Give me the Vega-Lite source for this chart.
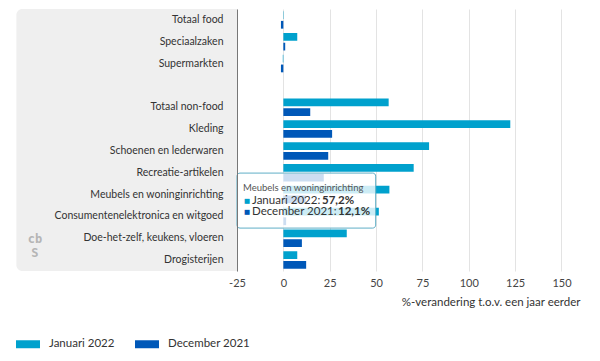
{
  "$schema": "https://vega.github.io/schema/vega-lite/v6.json",
  "autosize": {"type": "none"},
  "padding": {"left": 237, "top": 9, "right": 20, "bottom": 90},
  "width": 343,
  "height": 262,
  "config": {
    "view": {"stroke": null},
    "font": "Lato",
    "axis": {"labelFont": "Lato", "titleFont": "Lato"},
    "legend": {"labelFont": "Lato"}
  },
  "layer": [
    {
      "data": {"values": [{}]},
      "mark": {"type": "rect", "color": "#efefef", "cornerRadiusTopLeft": 6, "cornerRadiusBottomLeft": 6},
      "encoding": {
        "x": {"datum": -144, "type": "quantitative"},
        "x2": {"datum": -25}
      }
    },
    {
      "data": {"values": [{}]},
      "mark": {"type": "text", "align": "center", "baseline": "middle", "dy": 1, "fontSize": 12, "lineHeight": 14, "fontWeight": "bold", "color": "#b5b5b5", "font": "DejaVu Sans Mono"},
      "encoding": {
        "x": {"datum": -134, "type": "quantitative"},
        "y": {"datum": "Doe-het-zelf, keukens, vloeren", "type": "nominal"},
        "text": {"value": ["cb", "S"]}
      }
    },
    {
      "data": {
        "values": [
          {"cat": "Totaal food", "series": "Januari 2022", "value": 0.2},
          {"cat": "Totaal food", "series": "December 2021", "value": -1.3},
          {"cat": "Speciaalzaken", "series": "Januari 2022", "value": 7.5},
          {"cat": "Speciaalzaken", "series": "December 2021", "value": 1.0},
          {"cat": "Supermarkten", "series": "Januari 2022", "value": -0.3},
          {"cat": "Supermarkten", "series": "December 2021", "value": -1.3},
          {"cat": "Totaal non-food", "series": "Januari 2022", "value": 56.8},
          {"cat": "Totaal non-food", "series": "December 2021", "value": 14.5},
          {"cat": "Kleding", "series": "Januari 2022", "value": 122.4},
          {"cat": "Kleding", "series": "December 2021", "value": 26.3},
          {"cat": "Schoenen en lederwaren", "series": "Januari 2022", "value": 78.6},
          {"cat": "Schoenen en lederwaren", "series": "December 2021", "value": 24.2},
          {"cat": "Recreatie-artikelen", "series": "Januari 2022", "value": 70.3},
          {"cat": "Recreatie-artikelen", "series": "December 2021", "value": 21.8},
          {"cat": "Meubels en woninginrichting", "series": "Januari 2022", "value": 57.2},
          {"cat": "Meubels en woninginrichting", "series": "December 2021", "value": 12.1},
          {"cat": "Consumentenelektronica en witgoed", "series": "Januari 2022", "value": 51.5},
          {"cat": "Consumentenelektronica en witgoed", "series": "December 2021", "value": 1.5},
          {"cat": "Doe-het-zelf, keukens, vloeren", "series": "Januari 2022", "value": 34.2},
          {"cat": "Doe-het-zelf, keukens, vloeren", "series": "December 2021", "value": 10.0},
          {"cat": "Drogisterijen", "series": "Januari 2022", "value": 7.5},
          {"cat": "Drogisterijen", "series": "December 2021", "value": 12.3}
        ]
      },
      "mark": {"type": "bar"},
      "encoding": {
        "y": {
          "field": "cat",
          "type": "nominal",
          "title": null,
          "scale": {
            "domain": ["Totaal food", "Speciaalzaken", "Supermarkten", " ", "Totaal non-food", "Kleding", "Schoenen en lederwaren", "Recreatie-artikelen", "Meubels en woninginrichting", "Consumentenelektronica en witgoed", "Doe-het-zelf, keukens, vloeren", "Drogisterijen"],
            "paddingInner": 0.2,
            "paddingOuter": 0.1
          },
          "axis": {
            "ticks": false,
            "domain": true,
            "domainColor": "#777777",
            "domainWidth": 1,
            "labelPadding": 14,
            "labelFontSize": 10.5,
            "labelColor": "#333333",
            "zindex": 1
          }
        },
        "yOffset": {
          "field": "series",
          "type": "nominal",
          "sort": ["Januari 2022", "December 2021"],
          "scale": {"paddingInner": 0.2}
        },
        "x": {
          "field": "value",
          "type": "quantitative",
          "scale": {"domain": [-25, 160], "nice": false, "zero": false},
          "axis": {
            "values": [-25, 0, 25, 50, 75, 100, 125, 150],
            "labelExpr": "datum.value < 0 ? '-' + abs(datum.value) : datum.label",
            "title": "%-verandering t.o.v. een jaar eerder",
            "titleAnchor": "end",
            "titleFontWeight": "normal",
            "titleFontSize": 11.5,
            "titleColor": "#333333",
            "titlePadding": 8,
            "labelFontSize": 11,
            "labelColor": "#444444",
            "labelPadding": 6,
            "ticks": false,
            "domain": false,
            "grid": true,
            "gridColor": "#e3e3e3",
            "labelFlush": false
          }
        },
        "color": {
          "field": "series",
          "type": "nominal",
          "scale": {"domain": ["Januari 2022", "December 2021"], "range": ["#00a1cd", "#0058b8"]},
          "legend": {
            "title": null,
            "orient": "none",
            "legendX": -221,
            "legendY": 323,
            "direction": "horizontal",
            "symbolType": "M-1,-0.333H1V0.333H-1Z",
            "symbolSize": 576,
            "symbolStrokeWidth": 0,
            "symbolOpacity": 1,
            "labelFontSize": 11.5,
            "labelColor": "#333333",
            "labelOffset": 9,
            "columnPadding": 20
          }
        }
      }
    },
    {
      "data": {"values": [{}]},
      "mark": {"type": "rect", "fill": "#ffffff", "fillOpacity": 0.8, "stroke": "#5faec6", "strokeWidth": 1, "cornerRadius": 3, "height": 55, "yOffset": 6},
      "encoding": {
        "x": {"datum": -25, "type": "quantitative"},
        "x2": {"datum": 49.8},
        "y": {"datum": "Meubels en woninginrichting", "type": "nominal"}
      }
    },
    {
      "data": {"values": [{}]},
      "mark": {"type": "text", "align": "left", "baseline": "middle", "dx": 6, "dy": -7, "fontSize": 9.5, "color": "#555555"},
      "encoding": {
        "x": {"datum": -25, "type": "quantitative"},
        "y": {"datum": "Meubels en woninginrichting", "type": "nominal"},
        "text": {"value": "Meubels en woninginrichting"}
      }
    },
    {
      "data": {"values": [{}]},
      "mark": {"type": "text", "align": "left", "baseline": "middle", "dx": 7, "dy": 6, "fontSize": 6.5, "color": "#00a1cd", "font": "DejaVu Sans"},
      "encoding": {
        "x": {"datum": -25, "type": "quantitative"},
        "y": {"datum": "Meubels en woninginrichting", "type": "nominal"},
        "text": {"value": "■"}
      }
    },
    {
      "data": {"values": [{}]},
      "mark": {"type": "text", "align": "left", "baseline": "middle", "dx": 7, "dy": 17.5, "fontSize": 6.5, "color": "#0058b8", "font": "DejaVu Sans"},
      "encoding": {
        "x": {"datum": -25, "type": "quantitative"},
        "y": {"datum": "Meubels en woninginrichting", "type": "nominal"},
        "text": {"value": "■"}
      }
    },
    {
      "data": {"values": [{}]},
      "mark": {"type": "text", "align": "left", "baseline": "middle", "dx": 15, "dy": 6, "fontSize": 11.5, "color": "#333333"},
      "encoding": {
        "x": {"datum": -25, "type": "quantitative"},
        "y": {"datum": "Meubels en woninginrichting", "type": "nominal"},
        "text": {"value": "Januari 2022:"}
      }
    },
    {
      "data": {"values": [{}]},
      "mark": {"type": "text", "align": "left", "baseline": "middle", "dx": 85, "dy": 6, "fontSize": 11.5, "fontWeight": "bold", "color": "#333333"},
      "encoding": {
        "x": {"datum": -25, "type": "quantitative"},
        "y": {"datum": "Meubels en woninginrichting", "type": "nominal"},
        "text": {"value": "57,2%"}
      }
    },
    {
      "data": {"values": [{}]},
      "mark": {"type": "text", "align": "left", "baseline": "middle", "dx": 15, "dy": 17.5, "fontSize": 11.5, "color": "#333333"},
      "encoding": {
        "x": {"datum": -25, "type": "quantitative"},
        "y": {"datum": "Meubels en woninginrichting", "type": "nominal"},
        "text": {"value": "December 2021:"}
      }
    },
    {
      "data": {"values": [{}]},
      "mark": {"type": "text", "align": "left", "baseline": "middle", "dx": 101, "dy": 17.5, "fontSize": 11.5, "fontWeight": "bold", "color": "#333333"},
      "encoding": {
        "x": {"datum": -25, "type": "quantitative"},
        "y": {"datum": "Meubels en woninginrichting", "type": "nominal"},
        "text": {"value": "12,1%"}
      }
    }
  ]
}
